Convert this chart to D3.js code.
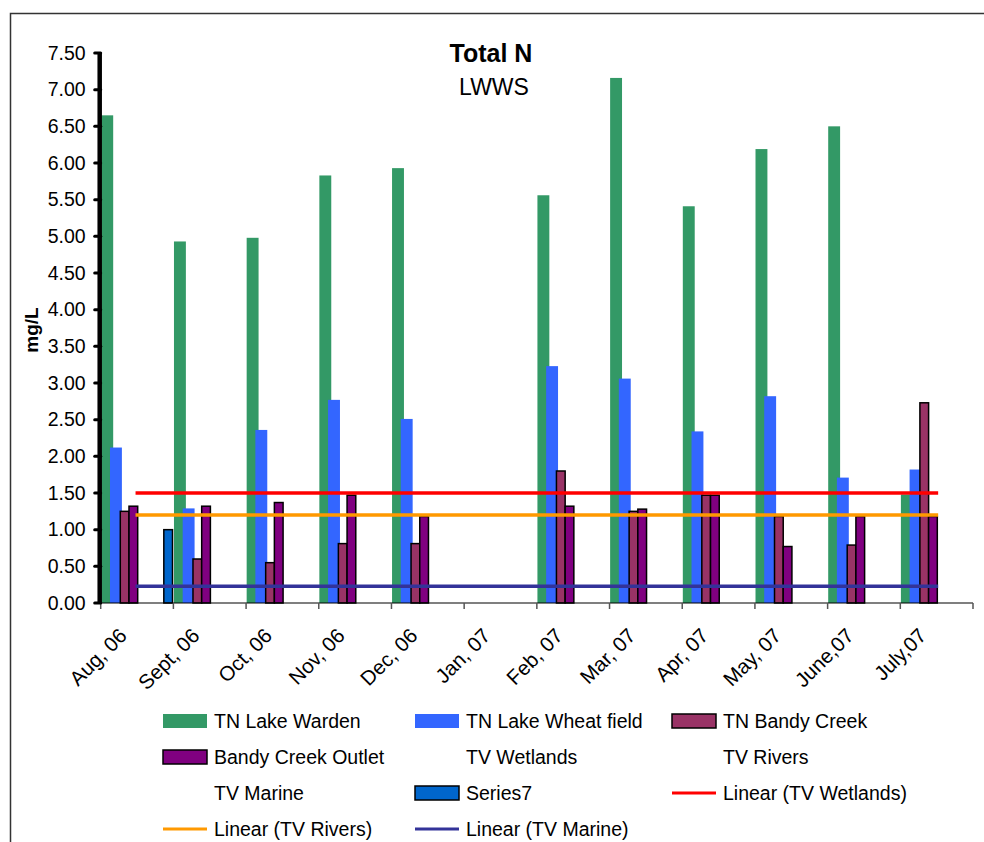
<!DOCTYPE html>
<html>
<head>
<meta charset="utf-8">
<script src="https://cdn.jsdelivr.net/npm/d3@7/dist/d3.min.js"></script>
<style>
  html, body { margin: 0; padding: 0; background: #fff; }
  svg { display: block; font-family: "Liberation Sans", Arial, sans-serif; }
</style>
</head>
<body>
<svg id="chart" width="984" height="842"></svg>
<script>
// Monthly sampling periods
const months = ["Aug, 06", "Sept, 06", "Oct, 06", "Nov, 06", "Dec, 06", "Jan, 07",
                "Feb, 07", "Mar, 07", "Apr, 07", "May, 07", "June,07", "July,07"];

// Total nitrogen (mg/L) per site; null = no sample
const lakeWarden   = [6.65, 4.93, 4.98, 5.83, 5.93, null, 5.56, 7.16, 5.41, 6.19, 6.50, 1.48];
const lakeWheat    = [2.12, 1.29, 2.36, 2.77, 2.51, null, 3.23, 3.06, 2.34, 2.82, 1.71, 1.82];
const bandyCreek   = [1.25, 0.60, 0.55, 0.81, 0.81, null, 1.80, 1.25, 1.47, 1.18, 0.79, 2.73];
const bandyOutlet  = [1.32, 1.32, 1.37, 1.47, 1.18, null, 1.32, 1.28, 1.47, 0.77, 1.18, 1.18];
const series7      = [1.00, null, null, null, null, null, null, null, null, null, null, null];

// Trigger values (guideline levels), constant across the year
const tvWetlands = [1.5, 1.5, 1.5, 1.5, 1.5, 1.5, 1.5, 1.5, 1.5, 1.5, 1.5, 1.5];
const tvRivers   = [1.2, 1.2, 1.2, 1.2, 1.2, 1.2, 1.2, 1.2, 1.2, 1.2, 1.2, 1.2];
const tvMarine   = [0.23, 0.23, 0.23, 0.23, 0.23, 0.23, 0.23, 0.23, 0.23, 0.23, 0.23, 0.23];

// Y axis tick labels
const yTicks = [0, 0.5, 1, 1.5, 2, 2.5, 3, 3.5, 4, 4.5, 5, 5.5, 6, 6.5, 7, 7.5];

const seriesNames = ["TN Lake Warden", "TN Lake Wheat field", "TN Bandy Creek", "Bandy Creek Outlet",
                     "TV Wetlands", "TV Rivers", "TV Marine", "Series7"];

const svg = d3.select("#chart");

// outer chart frame
svg.append("rect")
  .attr("x", 10.5).attr("y", 13.5).attr("width", 1000).attr("height", 900)
  .attr("fill", "none").attr("stroke", "#333").attr("stroke-width", 1.5);

const plot = { left: 100.7, right: 973, top: 53, bottom: 603 };

const y = d3.scaleLinear().domain([0, 7.5]).range([plot.bottom, plot.top]);
const x0 = d3.scaleBand().domain(months).range([plot.left, plot.right]).padding(0);
const bw = x0.bandwidth();
const x1 = d3.scaleBand().domain(seriesNames).range([bw * 0.03, bw * 0.988]).padding(0);

// bar series in drawing order; "widen" grows a bar sideways past its slot
const barSeries = [
  { name: "TN Lake Warden",      values: lakeWarden,  fill: "#339966", stroke: "none", widen: 1.6 },
  { name: "TN Lake Wheat field", values: lakeWheat,   fill: "#3366FF", stroke: "none", widen: 1.6 },
  { name: "TN Bandy Creek",      values: bandyCreek,  fill: "#993366", stroke: "#000", widen: 0 },
  { name: "Bandy Creek Outlet",  values: bandyOutlet, fill: "#800080", stroke: "#000", widen: 0 },
  { name: "Series7",             values: series7,     fill: "#0066CC", stroke: "#000", widen: 0 }
];

const barsG = svg.append("g");
barSeries.forEach(s => {
  barsG.append("g").selectAll("rect")
    .data(s.values.map((v, i) => ({ v, m: months[i] })).filter(d => d.v != null))
    .join("rect")
    .attr("x", d => x0(d.m) + x1(s.name) - s.widen)
    .attr("width", x1.bandwidth() + 2 * s.widen)
    .attr("y", d => y(d.v))
    .attr("height", d => y(0) - y(d.v))
    .attr("fill", s.fill)
    .attr("stroke", s.stroke)
    .attr("stroke-width", 1.5);
});

// linear trendlines of the trigger-value series
const trendSeries = [
  { values: tvWetlands, color: "#FF0000" },
  { values: tvRivers,   color: "#FF9900" },
  { values: tvMarine,   color: "#333399" }
];
trendSeries.forEach(t => {
  const n = t.values.length;
  const xs = t.values.map((v, i) => i);
  const mx = d3.mean(xs), my = d3.mean(t.values);
  const slope = d3.sum(xs, (xi, i) => (xi - mx) * (t.values[i] - my)) / d3.sum(xs, xi => (xi - mx) ** 2);
  const fit = i => my + slope * (i - mx);
  svg.append("line")
    .attr("x1", x0(months[0]) + bw / 2 - 1.5).attr("x2", x0(months[n - 1]) + bw / 2 + 1.5)
    .attr("y1", y(fit(0))).attr("y2", y(fit(n - 1)))
    .attr("stroke", t.color).attr("stroke-width", 3.5);
});

// x axis
const xAxisG = svg.append("g");
xAxisG.append("line")
  .attr("x1", plot.left).attr("x2", plot.right)
  .attr("y1", y(0)).attr("y2", y(0))
  .attr("stroke", "#000").attr("stroke-width", 1.2);
xAxisG.selectAll("line.tick")
  .data(months.map((m, i) => x0(m)).concat([x0(months[months.length - 1]) + bw]))
  .join("line").attr("class", "tick")
  .attr("x1", d => d).attr("x2", d => d)
  .attr("y1", y(0)).attr("y2", y(0) + 6)
  .attr("stroke", "#555").attr("stroke-width", 1.5);
xAxisG.selectAll("text")
  .data(months)
  .join("text")
  .attr("transform", d => `translate(${x0(d) + bw / 2 - 9},${y(0) + 34}) rotate(-45)`)
  .attr("text-anchor", "end")
  .attr("font-size", 20.5)
  .attr("fill", "#000")
  .text(d => d);

// y axis
const yAxisG = svg.append("g");
yAxisG.append("line")
  .attr("x1", plot.left - 1).attr("x2", plot.left - 1)
  .attr("y1", y(7.5)).attr("y2", y(0))
  .attr("stroke", "#000").attr("stroke-width", 4.5);
yAxisG.selectAll("line.tick")
  .data(yTicks)
  .join("line").attr("class", "tick")
  .attr("x1", plot.left - 6).attr("x2", plot.left)
  .attr("y1", d => y(d)).attr("y2", d => y(d))
  .attr("stroke", "#000").attr("stroke-width", 3).attr("stroke-linecap", "round");
yAxisG.selectAll("text")
  .data(yTicks)
  .join("text")
  .attr("x", plot.left - 15)
  .attr("y", d => y(d))
  .attr("dy", "0.35em")
  .attr("text-anchor", "end")
  .attr("font-size", 19.5)
  .attr("fill", "#000")
  .text(d => d3.format(".2f")(d));

// y axis title
svg.append("text")
  .attr("transform", `translate(38,${(plot.top + plot.bottom) / 2 + 2}) rotate(-90)`)
  .attr("text-anchor", "middle")
  .attr("font-size", 19)
  .attr("font-weight", "bold")
  .text("mg/L");

// titles
svg.append("text")
  .attr("x", 491).attr("y", 62)
  .attr("text-anchor", "middle")
  .attr("font-size", 25).attr("font-weight", "bold")
  .text("Total N");
svg.append("text")
  .attr("x", 494).attr("y", 95)
  .attr("text-anchor", "middle")
  .attr("font-size", 23)
  .text("LWWS");

// legend
const legendItems = [
  { label: "TN Lake Warden",          kind: "rect", fill: "#339966", stroke: "none" },
  { label: "TN Lake Wheat field",     kind: "rect", fill: "#3366FF", stroke: "none" },
  { label: "TN Bandy Creek",          kind: "rect", fill: "#993366", stroke: "#000" },
  { label: "Bandy Creek Outlet",      kind: "rect", fill: "#800080", stroke: "#000" },
  { label: "TV Wetlands",             kind: "none" },
  { label: "TV Rivers",               kind: "none" },
  { label: "TV Marine",               kind: "none" },
  { label: "Series7",                 kind: "rect", fill: "#0066CC", stroke: "#000" },
  { label: "Linear (TV Wetlands)",    kind: "line", color: "#FF0000" },
  { label: "Linear (TV Rivers)",      kind: "line", color: "#FF9900" },
  { label: "Linear (TV Marine)",      kind: "line", color: "#333399" }
];
const colX = [163, 415, 672];
const rowY = [721, 757, 793, 829];
const lg = svg.append("g");
legendItems.forEach((it, i) => {
  const cx = colX[i % 3], cy = rowY[Math.floor(i / 3)];
  const g = lg.append("g").attr("transform", `translate(${cx},${cy})`);
  if (it.kind === "rect") {
    g.append("rect").attr("x", 0).attr("y", -7).attr("width", 44).attr("height", 14)
      .attr("fill", it.fill).attr("stroke", it.stroke).attr("stroke-width", 1.5);
  } else if (it.kind === "line") {
    g.append("line").attr("x1", 0).attr("x2", 44).attr("y1", 0).attr("y2", 0)
      .attr("stroke", it.color).attr("stroke-width", 3);
  }
  g.append("text").attr("x", 51).attr("y", 0).attr("dy", "0.35em")
    .attr("font-size", 19.5).attr("fill", "#000").text(it.label);
});
</script>
</body>
</html>
